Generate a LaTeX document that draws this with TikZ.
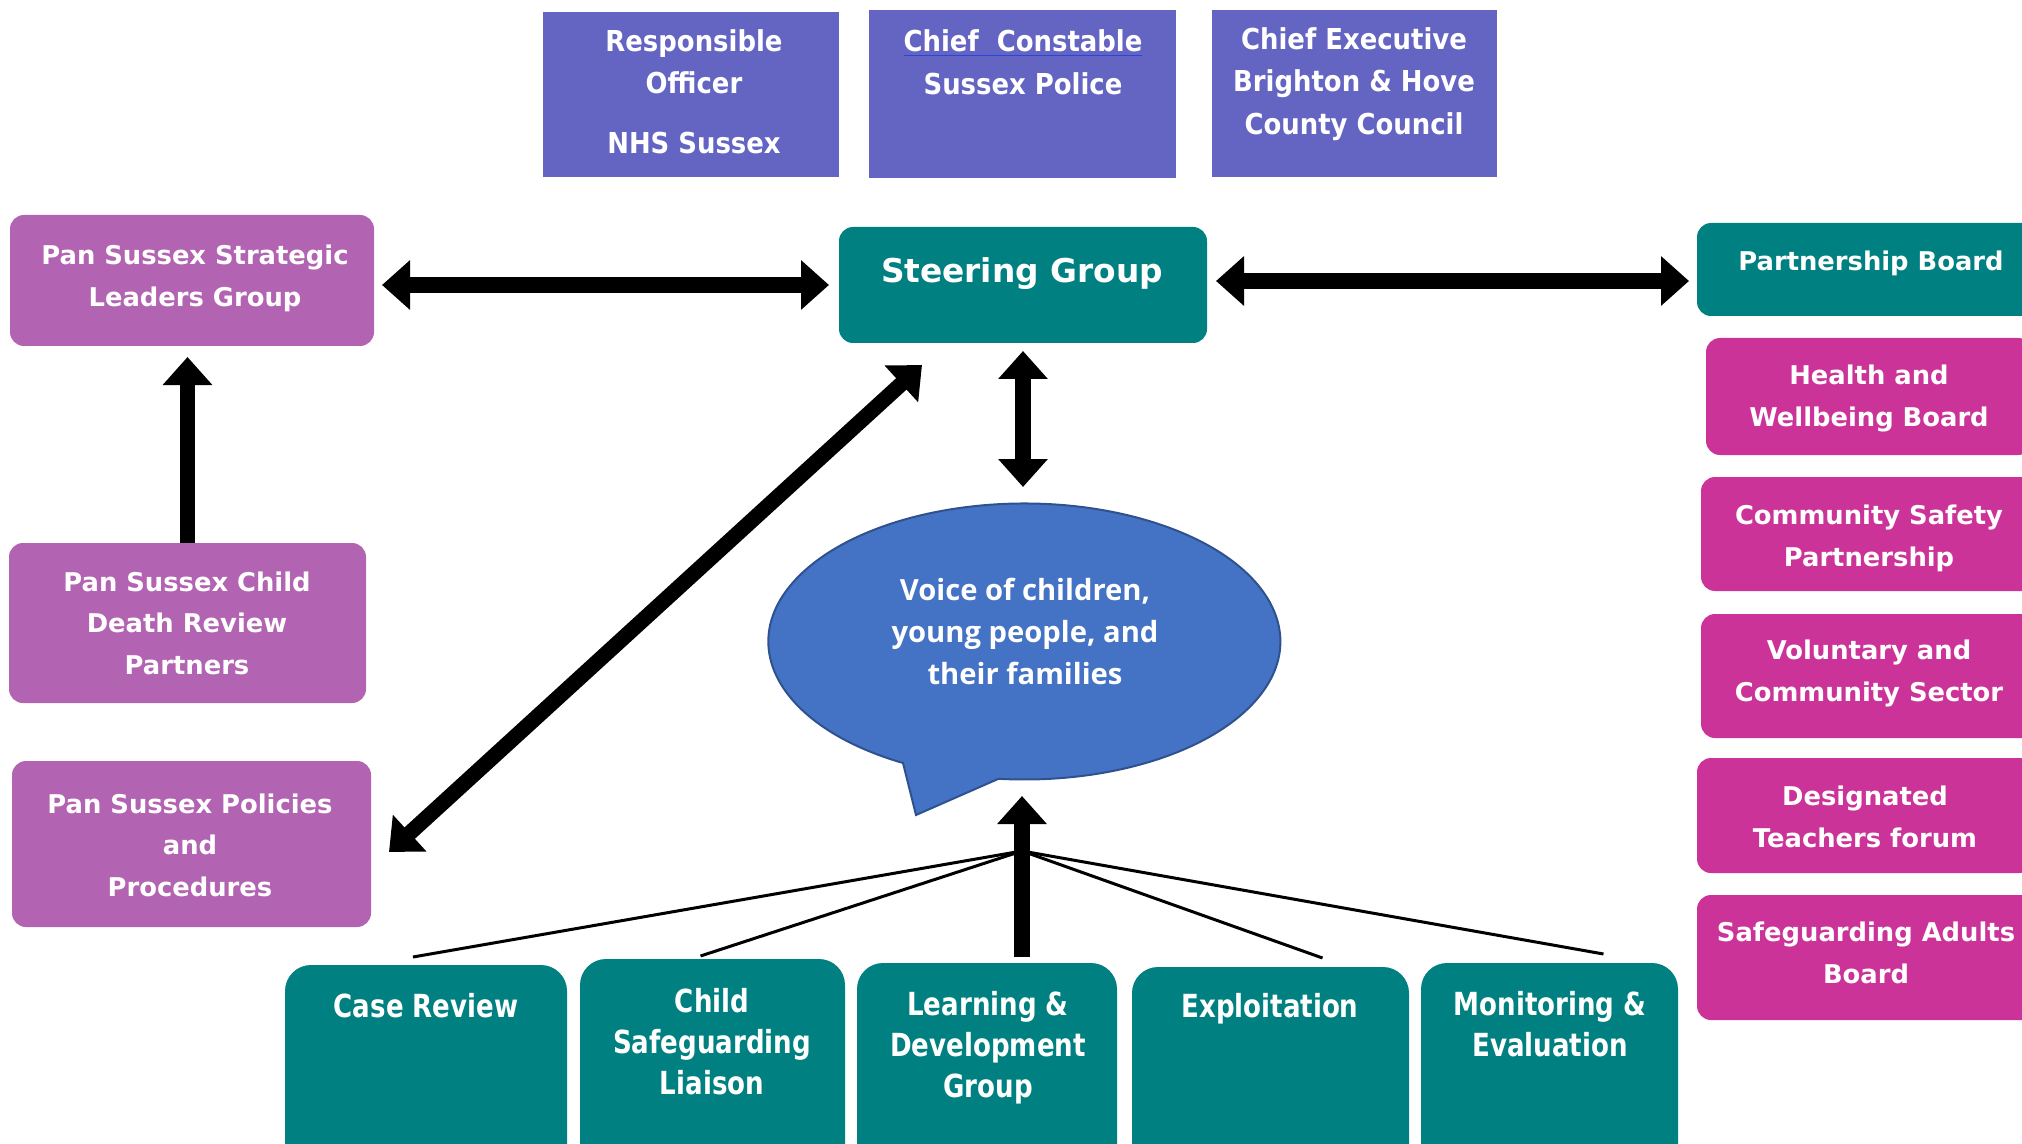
\documentclass[tikz,border=0pt]{standalone}
\usepackage{fontspec}
\setmainfont{DejaVu Sans}
\newfontfamily\condfont[FakeStretch=0.82]{DejaVu Sans}
\newfontfamily\topfont[FakeStretch=0.9]{DejaVu Sans}
\newfontfamily\bubfont{Open Sans}
\usetikzlibrary{arrows.meta,shapes.geometric}
\definecolor{topblue}{RGB}{100,100,195}
\definecolor{teal}{RGB}{0,128,128}
\definecolor{orchidbox}{RGB}{178,100,178}
\definecolor{magbox}{RGB}{204,51,153}
\definecolor{bubfill}{RGB}{68,114,196}
\definecolor{bubline}{RGB}{47,82,143}
\definecolor{ulblue}{RGB}{40,70,220}
\begin{document}
\begin{tikzpicture}[x=0.5pt,y=-0.5pt,
  every node/.style={inner sep=0pt,outer sep=0pt},
  topbox/.style={rectangle,fill=topblue},
  tealbox/.style={rectangle,rounded corners=7pt,fill=teal},
  leftbox/.style={rectangle,rounded corners=7pt,fill=orchidbox},
  rightbox/.style={rectangle,rounded corners=7pt,fill=magbox},
  botbox/.style={rectangle,rounded corners=13pt,fill=teal},
  lt/.style={text=white,align=center,yshift=-1.2pt,font=\bfseries\fontsize{12.9}{20.75}\selectfont},
  tt/.style={text=white,align=center,yshift=-1.2pt,font=\topfont\bfseries\fontsize{14.4}{21.2}\selectfont},
  bt/.style={text=white,align=center,yshift=-1.2pt,font=\condfont\bfseries\fontsize{15.9}{20.6}\selectfont},
  bigarrow/.style={line width=7.7pt,-{Triangle[length=14pt,width=24pt]}},
  dblarrow/.style={line width=7.7pt,{Triangle[length=14pt,width=24pt]}-{Triangle[length=14pt,width=24pt]}},
  thinline/.style={line width=1.5pt},
  bubble/.style={fill=bubfill,draw=bubline,line width=1pt}
]
\useasboundingbox (0,0) rectangle (2022,1144);
\clip (0,0) rectangle (2022,1144);

% top boxes
\node[topbox,minimum width=148pt,minimum height=82.5pt] (ro) at (691,94.5) {};
\node[topbox,minimum width=153.5pt,minimum height=84pt] (cc) at (1022.5,94) {};
\node[topbox,minimum width=142.5pt,minimum height=83.5pt] (ce) at (1354.5,93.5) {};
\node[tt,anchor=base] (rot) at (694,151) {Responsible\\Officer\\[8.5pt]NHS Sussex};
\node[tt,anchor=base] (cct) at (1023,92) {{\color{ulblue}\underline{\textcolor{white}{Chief\ \ Constable}}}\\Sussex Police};
\node[tt,anchor=base] (cet) at (1354,132) {Chief Executive\\Brighton \& Hove\\County Council};

% steering group
\node[tealbox,minimum width=184pt,minimum height=58pt] (steer) at (1023,285) {};
\node[lt,anchor=base,font=\bfseries\fontsize{16.4}{20}\selectfont] (steert) at (1022,280) {Steering Group};

% left boxes
\node[leftbox,minimum width=182pt,minimum height=65.5pt] (strat) at (192,280.5) {};
\node[lt,anchor=base] (stratt) at (195,304) {Pan Sussex Strategic\\Leaders Group};
\node[leftbox,minimum width=178.5pt,minimum height=80pt] (cdr) at (187.5,623) {};
\node[lt,anchor=base] (cdrt) at (187,672) {Pan Sussex Child\\Death Review\\Partners};
\node[leftbox,minimum width=179.5pt,minimum height=83pt] (pol) at (191.5,844) {};
\node[lt,anchor=base] (polt) at (190,894) {Pan Sussex Policies\\and\\Procedures};

% right boxes
\node[tealbox,minimum width=174pt,minimum height=46.5pt] (pb) at (1871,269.5) {};
\node[lt,anchor=base] (pbt) at (1871,268) {Partnership Board};
\node[rightbox,minimum width=163pt,minimum height=58.5pt] (hw) at (1869,396.5) {};
\node[lt,anchor=base] (hwt) at (1869,424) {Health and\\Wellbeing Board};
\node[rightbox,minimum width=168pt,minimum height=57pt] (csp) at (1869,534) {};
\node[lt,anchor=base] (cspt) at (1869,564) {Community Safety\\Partnership};
\node[rightbox,minimum width=168pt,minimum height=62pt] (vcs) at (1869,676) {};
\node[lt,anchor=base] (vcst) at (1869,699) {Voluntary and\\Community Sector};
\node[rightbox,minimum width=168pt,minimum height=57.5pt] (dtf) at (1865,815.5) {};
\node[lt,anchor=base] (dtft) at (1865,845) {Designated\\Teachers forum};
\node[rightbox,minimum width=169pt,minimum height=62.5pt] (sab) at (1866,957.5) {};
\node[lt,anchor=base] (sabt) at (1866,981) {Safeguarding Adults\\Board};

% bottom boxes
\node[botbox,minimum width=141pt,minimum height=105pt] (cr) at (426,1070) {};
\node[bt,anchor=base] (crt) at (426,1015) {Case Review};
\node[botbox,minimum width=132.5pt,minimum height=108pt] (csl) at (712.5,1067) {};
\node[bt,anchor=base] (cslt) at (712,1092) {Child\\Safeguarding\\Liaison};
\node[botbox,minimum width=130pt,minimum height=106pt] (ld) at (987,1069) {};
\node[bt,anchor=base] (ldt) at (988,1095) {Learning \&\\Development\\Group};
\node[botbox,minimum width=138.5pt,minimum height=104pt] (ex) at (1270.5,1071) {};
\node[bt,anchor=base] (ext) at (1270,1015) {Exploitation};
\node[botbox,minimum width=128.5pt,minimum height=106pt] (mon) at (1549.5,1069) {};
\node[bt,anchor=base] (mont) at (1550,1054) {Monitoring \&\\Evaluation};

% speech bubble
\coordinate (ellc) at (1025,641);
\path[bubble] ([shift={(-122,122)}]ellc) arc[start angle=118.3,end angle=455.8,x radius=256,y radius=138] -- (916,815) -- cycle;
\node[ellipse,minimum width=256pt,minimum height=138pt] (ell) at (ellc) {};
\node[text=white,align=center,anchor=base,
      font=\bubfont\bfseries\fontsize{14.6}{21}\selectfont] (ellt) at (1025,684)
      {Voice of children,\\young people, and\\their families};

% connectors
\coordinate (hub) at (1022,851);
\draw[dblarrow,shorten <=4pt,shorten >=5pt] (strat.east |- steer.west) -- (steer.west);
\draw[dblarrow,shorten <=4.5pt,shorten >=4pt] ([yshift=2pt]steer.east) -- ([yshift=2pt]steer.east -| pb.west);
\draw[dblarrow,shorten <=4pt,shorten >=8pt] (steer.south) -- (steer.south |- ell.north);
\draw[bigarrow,shorten >=5.5pt] (cdr.north) -- (cdr.north |- strat.south);
\draw[dblarrow] ([shift={(83,22)}]steer.south west) -- ([shift={(18,8)}]pol.east);
\draw[bigarrow,shorten <=3pt,shorten >=8.5pt] (hub |- ld.north) -- (hub |- ell.south);
\draw[thinline] (hub) -- ([shift={(-13,-8)}]cr.north);
\draw[thinline] (hub) -- ([shift={(-12,-3)}]csl.north);
\draw[thinline] (hub) -- ([shift={(52,-9)}]ex.north);
\draw[thinline] (hub) -- ([shift={(54,-9)}]mon.north);
\end{tikzpicture}
\end{document}
